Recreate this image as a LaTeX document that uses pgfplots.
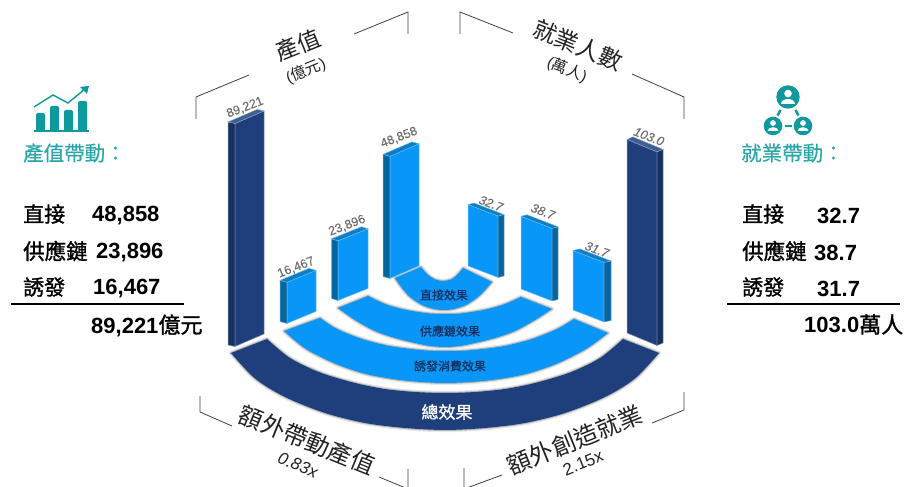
\documentclass[border=0pt]{standalone}
\usepackage{fontspec}
\usepackage{xfp}
\usepackage{pgfplots}
\pgfplotsset{compat=1.18}
\usepgfplotslibrary{fillbetween}
\setmainfont{Liberation Sans}
\newfontfamily\cjk{Noto Sans CJK TC}
\newfontfamily\cjkm[FakeBold=0.7]{Noto Sans CJK TC}
\newfontfamily\cjkh[FakeBold=1.3]{Noto Sans CJK TC}
\newfontfamily\cjks[FakeBold=0.35]{Noto Sans CJK TC}
\newfontfamily\lab[FakeBold=0.35]{Liberation Sans}
\definecolor{navyfront}{HTML}{1F3F7C}
\definecolor{navyside}{HTML}{16305F}
\definecolor{navytop}{HTML}{3E5F93}
\definecolor{bluefront}{HTML}{0896F8}
\definecolor{blueside}{HTML}{05659F}
\definecolor{bluetop}{HTML}{0A7FC6}
\definecolor{teal}{HTML}{0E9A9C}
\definecolor{tealtext}{HTML}{2AA6A8}
\definecolor{barlabel}{HTML}{6E6E6E}
\definecolor{inkdark}{HTML}{222222}
% Face colours for bars seen from the right: wide face left, narrow face right
\colorlet{rnavyfront}{navyside}\colorlet{rnavyside}{navyfront}\colorlet{rnavytop}{navytop}
\colorlet{rbluefront}{blueside}\colorlet{rblueside}{bluefront}\colorlet{rbluetop}{bluetop}

% Oblique bar: #1 colour prefix, #2 value, #3 pixels per unit,
% #4-#9 footprint points (left, middle, right) on the floor
\newcommand{\isobar}[9]{%
  \edef\hh{\fpeval{#2*#3}}%
  \edef\yLt{\fpeval{#5-\hh}}%
  \edef\yMt{\fpeval{#7-\hh}}%
  \edef\yRt{\fpeval{#9-\hh}}%
  \edef\xB{\fpeval{#4+#8-#6}}%
  \edef\yB{\fpeval{#5+#9-#7-\hh}}%
  \addplot[fill=#1side, draw=#1side!55!white, line width=0.5pt] coordinates {(#4,#5) (#6,#7) (#6,\yMt) (#4,\yLt)} -- cycle;
  \addplot[fill=#1front, draw=#1front!55!white, line width=0.5pt] coordinates {(#6,#7) (#8,#9) (#8,\yRt) (#6,\yMt)} -- cycle;
  \addplot[fill=#1top, draw=#1top!55!white, line width=0.4pt] coordinates {(#4,\yLt) (#6,\yMt) (#8,\yRt) (\xB,\yB)} -- cycle;
}
% Curved floor band with a soft edge: #1 name, #2 colour, #3 outer edge, #4 inner edge
\newcommand{\band}[4]{%
  \addplot[name path=#1o, draw=none, smooth] coordinates {#3};
  \addplot[name path=#1i, draw=none, smooth] coordinates {#4};
  \addplot[fill=black!9, draw=black!9, line width=4.5pt, line join=round] fill between[of=#1o and #1i, on layer=main];
  \addplot[fill=black!28, draw=black!28, line width=2pt, line join=round] fill between[of=#1o and #1i, on layer=main];
  \addplot[fill=#2, draw=none] fill between[of=#1o and #1i, on layer=main];
}
% Text helper: x, y, rotation, size, colour, anchor, content
\newcommand{\txt}[7]{\node[inner sep=0pt, rotate=#3, anchor=#6, text=#5, font=\fontsize{#4}{#4}\selectfont] at (axis cs:#1,#2) {#7};}

\begin{document}
\begin{tikzpicture}
\begin{axis}[
  at={(0,0)}, anchor=south west,
  scale only axis, width=906pt, height=487pt,
  xmin=0, xmax=906, ymin=0, ymax=487, y dir=reverse,
  hide axis, clip=false,
]
% Floor bands
\band{total}{navyfront}
 {(231,353)(255,378.5)(285,397)(325,413)(365,423)(405,428)(445,430)(485,428)(525,423)(565,413)(605,397)(635,378.5)(659,353)}
 {(267,339)(290,358)(320,372.5)(355,383)(385,389)(415,392)(445,393)(475,392)(505,389)(535,383)(570,372.5)(600,358)(623,339)}
\band{induced}{bluefront}
 {(284,331)(306,349)(336,364)(366,374)(396,379.5)(421,382)(446,383)(471,382)(496,379.5)(526,374)(556,364)(586,349)(608,333)}
 {(320,318)(337,329)(362,339)(387,345.5)(407,348.5)(427,350.5)(447,351)(467,350.5)(487,348.5)(507,345.5)(532,339)(557,329)(574,319)}
\band{supply}{bluefront}
 {(338,308)(355,320)(375,331)(395,338)(415,343)(430,346)(445,347)(460,346)(475,343)(495,338)(515,331)(535,320)(552,309)}
 {(368,296)(385,304)(400,308.5)(415,311.5)(430,313.5)(445,314)(460,313.5)(475,311.5)(490,308.5)(505,304)(521,297)}
\band{direct}{bluefront}
 {(395,278)(402,288)(410,297)(422,305)(434,309)(444,310)(454,309)(466,305)(478,297)(486,289)(492,282)}
 {(421,267)(427,274)(434,279)(443,281)(452,279)(458,274)(463,268)}

% Output value bars (100 million)
\isobar{navy}{89221}{0.0025}{228}{345}{235}{346.5}{264}{334}
\isobar{blue}{16467}{0.0025}{280}{321.5}{287}{323.5}{316}{311.5}
\isobar{blue}{23896}{0.0025}{331.5}{298.5}{338}{300.5}{368}{288.5}
\isobar{blue}{48858}{0.0025}{383}{276.5}{390}{278.5}{419}{266}
% Employment bars (10 thousand persons)
\isobar{rblue}{32.7}{1.88}{468}{266}{498}{277.5}{504}{276}
\isobar{rblue}{38.7}{1.88}{521}{289}{552}{301}{558}{299.5}
\isobar{rblue}{31.7}{1.88}{573}{310}{604}{322}{611}{320.5}
\isobar{rnavy}{103.0}{1.88}{627}{333}{657}{345.5}{663}{343}

% Hexagonal frame segments
\addplot[black!75!white, line width=0.8pt] coordinates {(196,119)(196,97)(249,75)};
\addplot[black!75!white, line width=0.8pt] coordinates {(354,34)(408,12)(408,34)};
\addplot[black!75!white, line width=0.8pt] coordinates {(460,34)(460,12)(513,33)};
\addplot[black!75!white, line width=0.8pt] coordinates {(632,74)(684,97)(684,119)};
\addplot[black!75!white, line width=0.8pt] coordinates {(200,396)(200,412)(232,426)};
\addplot[black!75!white, line width=0.8pt] coordinates {(379,477)(408,489)(408,469)};
\addplot[black!75!white, line width=0.8pt] coordinates {(684,392)(684,410)(652,423)};
\addplot[black!75!white, line width=0.8pt] coordinates {(502,475)(464,489)(464,468)};

% Bar value labels
\txt{245}{107.5}{21}{12.5}{barlabel}{center}{\lab 89,221}
\txt{296}{267.5}{21}{12.5}{barlabel}{center}{\lab 16,467}
\txt{347}{225.5}{21}{12.5}{barlabel}{center}{\lab 23,896}
\txt{399}{137.5}{21}{12.5}{barlabel}{center}{\lab 48,858}
\txt{491}{203.5}{-21}{12.5}{barlabel}{center}{\lab\itshape 32.7}
\txt{543}{211.5}{-21}{12.5}{barlabel}{center}{\lab\itshape 38.7}
\txt{597}{249.5}{-21}{12.5}{barlabel}{center}{\lab\itshape 31.7}
\txt{649}{136.5}{-21}{12.5}{barlabel}{center}{\lab\itshape 103.0}

% Band captions
\txt{444}{295}{0}{12}{navyside}{center}{\cjkm 直接效果}
\txt{450}{331}{0}{12}{navyside}{center}{\cjkm 供應鏈效果}
\txt{450}{366}{0}{12}{navyside}{center}{\cjkm 誘發消費效果}
\txt{447}{412}{0}{17}{white}{center}{\cjkm 總效果}

% Frame titles
\txt{298}{45}{22}{23}{inkdark}{center}{\cjk 產值}
\txt{306}{71}{22}{15.5}{inkdark}{center}{(\cjk 億元\rmfamily)}
\txt{578}{45}{-22}{23.5}{inkdark}{center}{\cjk 就業人數}
\txt{567}{70}{-22}{15.5}{inkdark}{center}{(\cjk 萬人\rmfamily)}
\txt{307}{440}{-22}{24}{inkdark}{center}{\cjk 額外帶動產值}
\txt{298}{465}{-22}{17}{inkdark}{center}{\itshape 0.83x}
\txt{575}{440}{22}{24}{inkdark}{center}{\cjk 額外創造就業}
\txt{583}{463}{22}{17}{inkdark}{center}{2.15x}

% Left summary
\txt{23}{153}{0}{20.5}{tealtext}{west}{\cjks 產值帶動：}
\txt{23}{214}{0}{21}{black}{west}{\cjkh 直接}
\txt{92}{215.5}{0}{22}{black}{west}{\bfseries 48,858}
\txt{23}{251}{0}{21.5}{black}{west}{\cjkh 供應鏈}
\txt{96}{252.5}{0}{22}{black}{west}{\bfseries 23,896}
\txt{23}{287}{0}{21}{black}{west}{\cjkh 誘發}
\txt{93}{288.5}{0}{22}{black}{west}{\bfseries 16,467}
\addplot[black, line width=1.2pt] coordinates {(11,304)(184,304)};
\txt{91}{325.5}{0}{22}{black}{west}{\bfseries 89,221\mdseries\cjkh 億元}

% Right summary
\txt{741}{153}{0}{20.5}{tealtext}{west}{\cjks 就業帶動：}
\txt{742}{214}{0}{21}{black}{west}{\cjkh 直接}
\txt{817}{215.5}{0}{22}{black}{west}{\bfseries 32.7}
\txt{742}{251}{0}{21.5}{black}{west}{\cjkh 供應鏈}
\txt{814}{252.5}{0}{22}{black}{west}{\bfseries 38.7}
\txt{742}{287}{0}{21}{black}{west}{\cjkh 誘發}
\txt{817}{288.5}{0}{22}{black}{west}{\bfseries 31.7}
\addplot[black, line width=1.2pt] coordinates {(727,304)(900,304)};
\txt{804}{324.5}{0}{22}{black}{west}{\bfseries 103.0\mdseries\cjkh 萬人}

% Chart pictogram
\fill[teal, rounded corners=2pt] (axis cs:36,131) rectangle (axis cs:45,113);
\fill[teal, rounded corners=2pt] (axis cs:50,131) rectangle (axis cs:59,106);
\fill[teal, rounded corners=2pt] (axis cs:64,131) rectangle (axis cs:73,110);
\fill[teal, rounded corners=2pt] (axis cs:78,131) rectangle (axis cs:87,101);
\draw[teal, line width=1.2pt] (axis cs:34,131) -- (axis cs:89,131);
\draw[teal, line width=1.4pt] (axis cs:34,107) -- (axis cs:53,95) -- (axis cs:68,103) -- (axis cs:85,89);
\fill[teal] (axis cs:89,86) -- (axis cs:80,87) -- (axis cs:87,94) -- cycle;

% People pictogram
\fill[teal] (axis cs:788,97) circle[radius=11.7pt];
\fill[teal] (axis cs:773,126) circle[radius=9.3pt];
\fill[teal] (axis cs:803,126) circle[radius=9.3pt];
\fill[white] (axis cs:788,93.5) circle[radius=3.8pt];
\fill[white] (axis cs:781,104) arc[start angle=180, end angle=0, x radius=7pt, y radius=5pt] -- cycle;
\fill[white] (axis cs:773,123) circle[radius=2.9pt];
\fill[white] (axis cs:767.5,131) arc[start angle=180, end angle=0, x radius=5.5pt, y radius=3.8pt] -- cycle;
\fill[white] (axis cs:803,123) circle[radius=2.9pt];
\fill[white] (axis cs:797.5,131) arc[start angle=180, end angle=0, x radius=5.5pt, y radius=3.8pt] -- cycle;
\draw[teal, line width=2.4pt] (axis cs:780.5,110) -- (axis cs:777.5,115.5);
\draw[teal, line width=2.4pt] (axis cs:795.5,110) -- (axis cs:798.5,115.5);
\draw[teal, line width=2.4pt] (axis cs:784.5,126) -- (axis cs:791.5,126);
\end{axis}
\pgfresetboundingbox
\path[use as bounding box] (0,0) rectangle (906pt,487pt);
\end{tikzpicture}
\end{document}
